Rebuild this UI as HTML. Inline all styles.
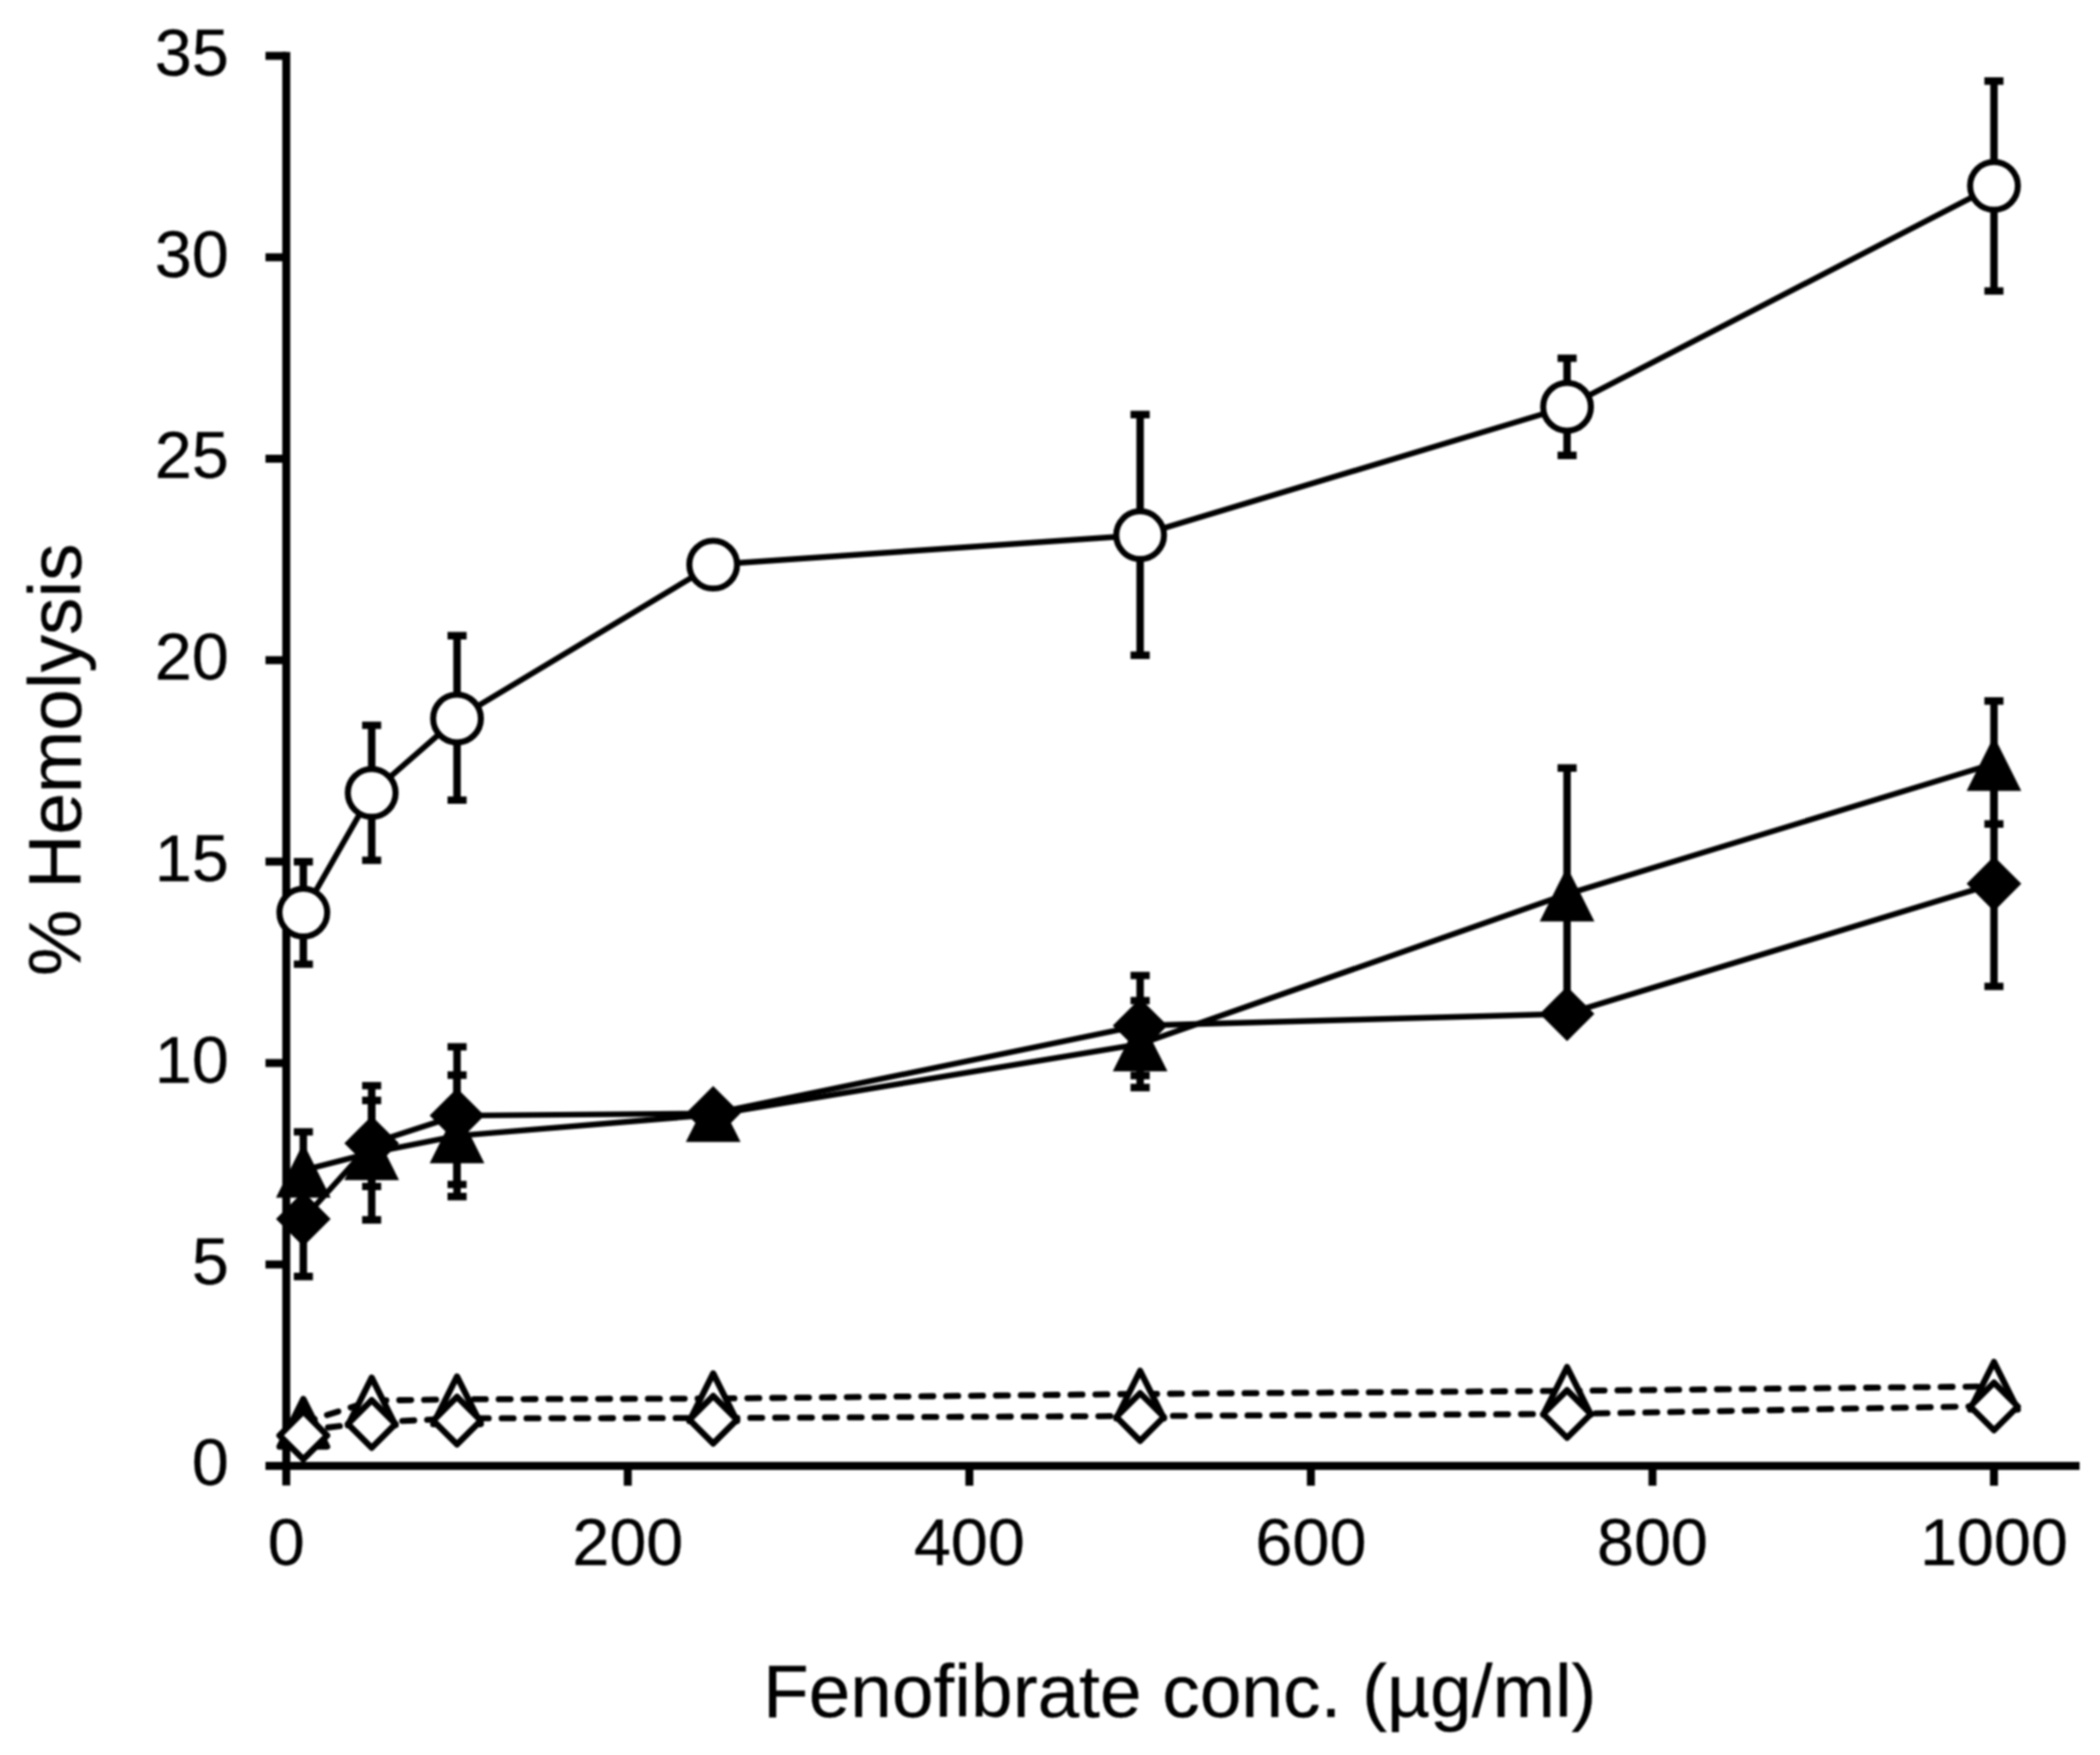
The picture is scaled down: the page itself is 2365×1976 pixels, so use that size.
<!DOCTYPE html>
<html lang="en"><head><meta charset="utf-8"><title>% Hemolysis vs Fenofibrate conc.</title>
<style>html,body{margin:0;padding:0;background:#fff}body{width:2365px;height:1976px;overflow:hidden}svg{display:block}text{font-family:"Liberation Sans",Arial,Helvetica,sans-serif;fill:#000;stroke:#000;stroke-width:0.3px}</style></head><body>
<svg width="2365" height="1976" viewBox="0 0 2365 1976">
<defs><filter id="soft" x="0" y="0" width="2365" height="1976" filterUnits="userSpaceOnUse" color-interpolation-filters="sRGB"><feGaussianBlur stdDeviation="0.9"/></filter></defs>
<rect width="2365" height="1976" fill="#fff"/>
<g filter="url(#soft)">
<rect width="2365" height="1976" fill="#fff"/>
<g stroke="#000" stroke-width="9" fill="none" stroke-linecap="butt">
<path d="M322.4 58.4V1672.5"/>
<path d="M299 1650.5H2342"/>
<path d="M299 1423.7H322.4"/>
<path d="M299 1196.9H322.4"/>
<path d="M299 970.1H322.4"/>
<path d="M299 743.3H322.4"/>
<path d="M299 516.5H322.4"/>
<path d="M299 289.7H322.4"/>
<path d="M299 62.9H322.4"/>
<path d="M707 1650.5V1672.8"/>
<path d="M1091.7 1650.5V1672.8"/>
<path d="M1476.3 1650.5V1672.8"/>
<path d="M1861 1650.5V1672.8"/>
<path d="M2245.6 1650.5V1672.8"/>
</g>
<polyline points="341.6,1601.9 418.6,1577 514.7,1575.5 803.2,1574.7 1284,1569.5 1764.8,1566 2245.6,1561" fill="none" stroke="#000" stroke-width="6.8" stroke-linejoin="round" stroke-dasharray="13.4 14.6" stroke-linecap="round"/>
<path d="M341.6 1575.1L368.4 1628.7L314.8 1628.7Z" fill="#000" stroke="#000" stroke-width="7" stroke-linejoin="round"/>
<path d="M418.6 1551.1L445.4 1604.7L391.8 1604.7Z" fill="#fff" stroke="#000" stroke-width="7" stroke-linejoin="round"/>
<path d="M514.7 1549.8L541.5 1603.4L487.9 1603.4Z" fill="#fff" stroke="#000" stroke-width="7" stroke-linejoin="round"/>
<path d="M803.2 1546.4L830 1600L776.4 1600Z" fill="#fff" stroke="#000" stroke-width="7" stroke-linejoin="round"/>
<path d="M1284 1543.5L1310.8 1597.1L1257.2 1597.1Z" fill="#fff" stroke="#000" stroke-width="7" stroke-linejoin="round"/>
<path d="M1764.8 1539.2L1791.6 1592.8L1738 1592.8Z" fill="#fff" stroke="#000" stroke-width="7" stroke-linejoin="round"/>
<path d="M2245.6 1533.5L2272.4 1587.1L2218.8 1587.1Z" fill="#fff" stroke="#000" stroke-width="7" stroke-linejoin="round"/>
<polyline points="341.6,1610.5 418.6,1601.5 514.7,1597 803.2,1596.6 1284,1594.3 1764.8,1592 2245.6,1583" fill="none" stroke="#000" stroke-width="6.8" stroke-linejoin="round" stroke-dasharray="13.4 14.6" stroke-linecap="round"/>
<path d="M341.6 1589.4L368.4 1616.2L341.6 1643L314.8 1616.2Z" fill="#fff" stroke="#000" stroke-width="7" stroke-linejoin="round"/>
<path d="M418.6 1576.5L445.4 1603.3L418.6 1630.1L391.8 1603.3Z" fill="#fff" stroke="#000" stroke-width="7" stroke-linejoin="round"/>
<path d="M514.7 1572.7L541.5 1599.5L514.7 1626.3L487.9 1599.5Z" fill="#fff" stroke="#000" stroke-width="7" stroke-linejoin="round"/>
<path d="M803.2 1571.7L830 1598.5L803.2 1625.3L776.4 1598.5Z" fill="#fff" stroke="#000" stroke-width="7" stroke-linejoin="round"/>
<path d="M1284 1568.6L1310.8 1595.4L1284 1622.2L1257.2 1595.4Z" fill="#fff" stroke="#000" stroke-width="7" stroke-linejoin="round"/>
<path d="M1764.8 1565.3L1791.6 1592.1L1764.8 1618.9L1738 1592.1Z" fill="#fff" stroke="#000" stroke-width="7" stroke-linejoin="round"/>
<path d="M2245.6 1556.8L2272.4 1583.6L2245.6 1610.4L2218.8 1583.6Z" fill="#fff" stroke="#000" stroke-width="7" stroke-linejoin="round"/>
<g stroke="#000" stroke-width="8.4" fill="none" stroke-linecap="butt">
<path d="M341.6 1274.4V1317.7M330.9 1274.4H352.4"/>
<path d="M418.6 1222.4V1373.5M407.8 1222.4H429.3M407.8 1373.5H429.3"/>
<path d="M514.7 1210.5V1347.3M504 1210.5H525.5M504 1347.3H525.5"/>
<path d="M1284 1126.6V1224.5M1273.2 1126.6H1294.8M1273.2 1224.5H1294.8"/>
<path d="M1764.8 864.7V1148.7M1754.1 864.7H1775.6M1754.1 1148.7H1775.6"/>
<path d="M2245.6 789.3V927.7M2234.8 789.3H2256.3M2234.8 927.7H2256.3"/>
</g>
<g stroke="#000" stroke-width="8.4" fill="none" stroke-linecap="butt">
<path d="M341.6 1372.4V1437.3M330.9 1437.3H352.4"/>
<path d="M418.6 1239V1335.9M407.8 1239H429.3M407.8 1335.9H429.3"/>
<path d="M514.7 1178.6V1333.6M504 1178.6H525.5M504 1333.6H525.5"/>
<path d="M1284 1098.4V1211M1273.2 1098.4H1294.8M1273.2 1211H1294.8"/>
<path d="M2245.6 879.6V1110.6M2234.8 879.6H2256.3M2234.8 1110.6H2256.3"/>
</g>
<polyline points="341.6,1317.7 418.6,1297.9 514.7,1278.9 803.2,1255 1284,1175.5 1764.8,1006.7 2245.6,859.7" fill="none" stroke="#000" stroke-width="6.4" stroke-linejoin="round"/>
<polyline points="341.6,1372.4 418.6,1287.2 514.7,1256.1 803.2,1253.6 1284,1154.7 1764.8,1141.5 2245.6,995.1" fill="none" stroke="#000" stroke-width="6.4" stroke-linejoin="round"/>
<path d="M341.6 1286.9L372.4 1348.5L310.8 1348.5Z" fill="#000"/>
<path d="M418.6 1267.1L449.4 1328.7L387.8 1328.7Z" fill="#000"/>
<path d="M514.7 1248.1L545.5 1309.7L483.9 1309.7Z" fill="#000"/>
<path d="M803.2 1224.2L834 1285.8L772.4 1285.8Z" fill="#000"/>
<path d="M1284 1144.7L1314.8 1206.3L1253.2 1206.3Z" fill="#000"/>
<path d="M1764.8 975.9L1795.6 1037.5L1734 1037.5Z" fill="#000"/>
<path d="M2245.6 828.9L2276.4 890.5L2214.8 890.5Z" fill="#000"/>
<path d="M341.6 1341.6L372.4 1372.4L341.6 1403.2L310.8 1372.4Z" fill="#000"/>
<path d="M418.6 1256.4L449.4 1287.2L418.6 1318L387.8 1287.2Z" fill="#000"/>
<path d="M514.7 1225.3L545.5 1256.1L514.7 1286.9L483.9 1256.1Z" fill="#000"/>
<path d="M803.2 1222.8L834 1253.6L803.2 1284.4L772.4 1253.6Z" fill="#000"/>
<path d="M1284 1123.9L1314.8 1154.7L1284 1185.5L1253.2 1154.7Z" fill="#000"/>
<path d="M1764.8 1110.7L1795.6 1141.5L1764.8 1172.3L1734 1141.5Z" fill="#000"/>
<path d="M2245.6 964.3L2276.4 995.1L2245.6 1025.9L2214.8 995.1Z" fill="#000"/>
<g stroke="#000" stroke-width="8.4" fill="none" stroke-linecap="butt">
<path d="M341.6 970.3V1085.6M330.9 970.3H352.4M330.9 1085.6H352.4"/>
<path d="M418.6 816.6V968.6M407.8 816.6H429.3M407.8 968.6H429.3"/>
<path d="M514.7 715.7V900.9M504 715.7H525.5M504 900.9H525.5"/>
<path d="M1284 466.8V737.7M1273.2 466.8H1294.8M1273.2 737.7H1294.8"/>
<path d="M1764.8 403.4V512.7M1754.1 403.4H1775.6M1754.1 512.7H1775.6"/>
<path d="M2245.6 91.2V327.6M2234.8 91.2H2256.3M2234.8 327.6H2256.3"/>
</g>
<polyline points="341.6,1027.6 418.6,892.8 514.7,809 803.2,635.8 1284,602.6 1764.8,458 2245.6,209.3" fill="none" stroke="#000" stroke-width="6.4" stroke-linejoin="round"/>
<circle cx="341.6" cy="1027.6" r="26.9" fill="#fff" stroke="#000" stroke-width="6.8"/>
<circle cx="418.6" cy="892.8" r="26.9" fill="#fff" stroke="#000" stroke-width="6.8"/>
<circle cx="514.7" cy="809" r="26.9" fill="#fff" stroke="#000" stroke-width="6.8"/>
<circle cx="803.2" cy="635.8" r="26.9" fill="#fff" stroke="#000" stroke-width="6.8"/>
<circle cx="1284" cy="602.6" r="26.9" fill="#fff" stroke="#000" stroke-width="6.8"/>
<circle cx="1764.8" cy="458" r="26.9" fill="#fff" stroke="#000" stroke-width="6.8"/>
<circle cx="2245.6" cy="209.3" r="26.9" fill="#fff" stroke="#000" stroke-width="6.8"/>
<g font-size="75">
<text x="257.8" y="1672.3" text-anchor="end">0</text>
<text x="257.8" y="1445.5" text-anchor="end">5</text>
<text x="257.8" y="1218.7" text-anchor="end">10</text>
<text x="257.8" y="991.9" text-anchor="end">15</text>
<text x="257.8" y="765.1" text-anchor="end">20</text>
<text x="257.8" y="538.3" text-anchor="end">25</text>
<text x="257.8" y="311.5" text-anchor="end">30</text>
<text x="257.8" y="84.7" text-anchor="end">35</text>
<text x="322.4" y="1761.8" text-anchor="middle">0</text>
<text x="707" y="1761.8" text-anchor="middle">200</text>
<text x="1091.7" y="1761.8" text-anchor="middle">400</text>
<text x="1476.3" y="1761.8" text-anchor="middle">600</text>
<text x="1861" y="1761.8" text-anchor="middle">800</text>
<text x="2245.6" y="1761.8" text-anchor="middle">1000</text>
</g>
<text x="1328.6" y="1932.5" font-size="84.3" text-anchor="middle">Fenofibrate conc. (µg/ml)</text>
<text transform="translate(90.8 855.5) rotate(-90)" font-size="84.3" text-anchor="middle">% Hemolysis</text>
</g></svg></body></html>
